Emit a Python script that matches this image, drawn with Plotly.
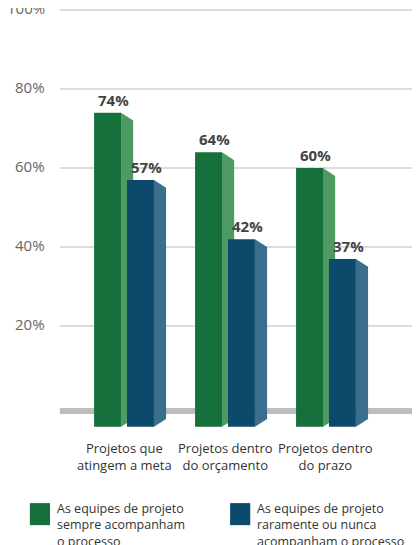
import plotly.graph_objects as go

categories = ["Projetos que<br>atingem a meta", "Projetos dentro<br>do orçamento", "Projetos dentro<br>do prazo"]
sempre = [74, 64, 60]
raramente = [57, 42, 37]
series_names = ["As equipes de projeto<br>sempre acompanham<br>o processo",
                "As equipes de projeto<br>raramente ou nunca<br>acompanham o processo"]
y_ticks = [20, 40, 60, 80, 100]

front_colors = ["#16703b", "#0c4a6c"]
side_colors = ["#4e9a62", "#3a6e8c"]

BASE = -5.5
W = 0.267      # bar front width
D = 0.12       # side depth
DY = 2.0       # slant
OFF = 0.163

fig = go.Figure()

for s, vals in enumerate([sempre, raramente]):
    for i, v in enumerate(vals):
        xc = i + (-OFF if s == 0 else OFF)
        xl, xr = xc - W / 2, xc + W / 2
        # front face
        fig.add_trace(go.Scatter(x=[xl, xr, xr, xl, xl], y=[BASE, BASE, v, v, BASE],
                                 fill="toself", fillcolor=front_colors[s], mode="lines",
                                 line=dict(width=0), hoverinfo="skip", showlegend=False))
        # side face
        fig.add_trace(go.Scatter(x=[xr, xr + D, xr + D, xr, xr], y=[BASE, BASE + DY, v - DY, v, BASE],
                                 fill="toself", fillcolor=side_colors[s], mode="lines",
                                 line=dict(width=0), hoverinfo="skip", showlegend=False))
        fig.add_annotation(x=xc + D / 2, y=v, text=f"<b>{v}%</b>", showarrow=False,
                           yanchor="bottom", yshift=1, font=dict(size=15, color="#444"))

shapes = []
for t in y_ticks:
    shapes.append(dict(type="line", xref="paper", x0=0.126, x1=1, y0=t, y1=t,
                       line=dict(color="#d0d0d0", width=1.5), layer="below"))
    fig.add_annotation(xref="paper", x=0.095, y=t, text=f"{t}%", showarrow=False,
                       xanchor="right", yanchor="middle", yshift=2,
                       font=dict(size=15, color="#666"))
shapes.append(dict(type="line", xref="paper", x0=0.126, x1=1, y0=-1.5, y1=-1.5,
                   line=dict(color="#bdbdbd", width=6), layer="below"))

for i, c in enumerate(categories):
    fig.add_annotation(x=i, y=-8, text=c, showarrow=False, yanchor="top",
                       font=dict(size=13, color="#333"))

# legend
for s, (lx, tx) in enumerate([(0.053, 0.115), (0.539, 0.600)]):
    shapes.append(dict(type="rect", xref="paper", yref="paper", x0=lx, x1=lx + 0.049,
                       y0=0.037, y1=0.078, fillcolor=front_colors[s], line=dict(width=0)))
    fig.add_annotation(xref="paper", yref="paper", x=tx, y=0.088, text=series_names[s],
                       showarrow=False, xanchor="left", yanchor="top", align="left",
                       font=dict(size=12.5, color="#333"))

fig.update_layout(
    width=412, height=537,
    margin=dict(l=0, r=0, t=0, b=0),
    plot_bgcolor="white", paper_bgcolor="white",
    font=dict(family="Open Sans"),
    shapes=shapes,
    xaxis=dict(range=[-1.149, 2.931], visible=False, fixedrange=True),
    yaxis=dict(range=[-35.4, 100.5], visible=False, fixedrange=True),
)

fig.write_html("out.html")
